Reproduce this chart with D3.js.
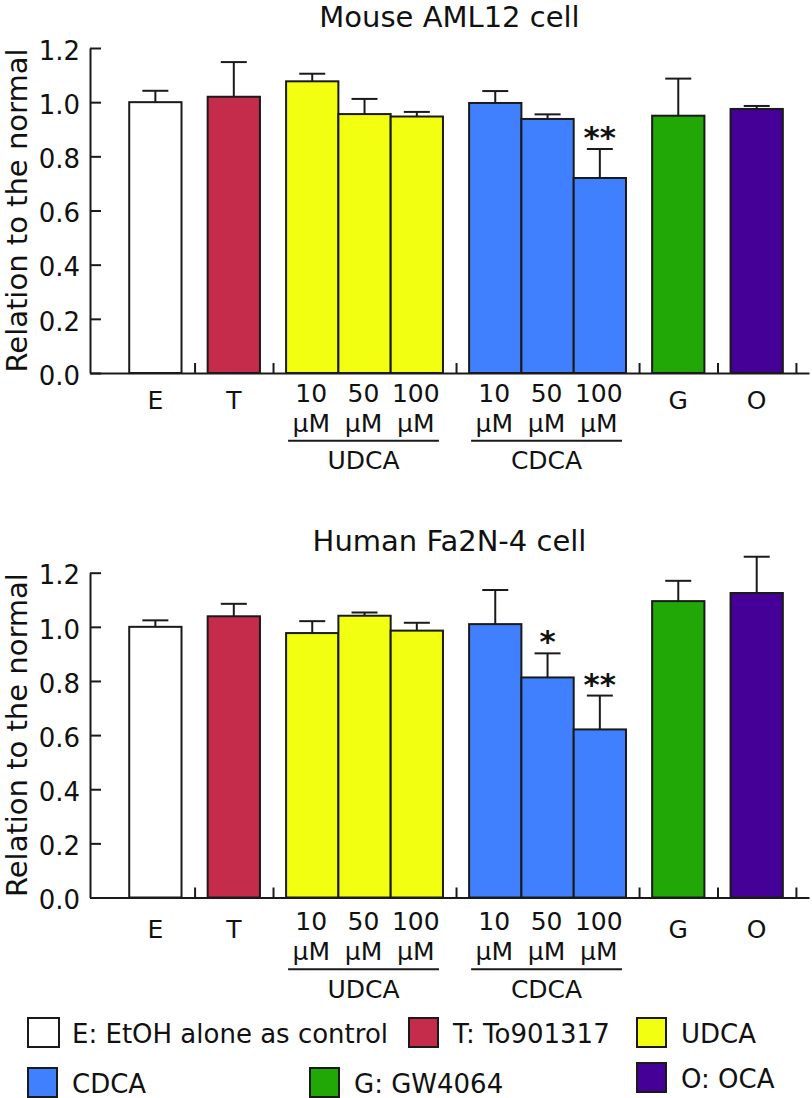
<!DOCTYPE html>
<html><head><meta charset="utf-8">
<script src="https://cdn.jsdelivr.net/npm/d3@7/dist/d3.min.js"></script>
<style>
body{margin:0;background:#fff}
svg{display:block}
text{font-family:"DejaVu Sans",Verdana,sans-serif;fill:#111}
</style>
</head><body>
<svg id="chart" width="812" height="1098"></svg>
<script>
// ---------- data ----------
const categories = ["E", "T", "10 μM", "50 μM", "100 μM", "10 μM", "50 μM", "100 μM", "G", "O"];
const categoryGroup = ["E", "T", "UDCA", "UDCA", "UDCA", "CDCA", "CDCA", "CDCA", "G", "O"];
const groupNames = ["E", "T", "UDCA", "CDCA", "G", "O"];
const groupColors = ["#ffffff", "#c52c4b", "#f2ff10", "#4080ff", "#21a806", "#450097"];

const panelTitles = ["Mouse AML12 cell", "Human Fa2N-4 cell"];
const mouseValues = [1.00, 1.02, 1.077, 0.956, 0.947, 0.997, 0.938, 0.72, 0.95, 0.975];
const mouseErrors = [0.042, 0.128, 0.028, 0.056, 0.017, 0.044, 0.017, 0.107, 0.137, 0.011];
const mouseSig = ["", "", "", "", "", "", "", "**", "", ""];
const humanValues = [1.00, 1.039, 0.977, 1.041, 0.986, 1.010, 0.813, 0.621, 1.095, 1.125];
const humanErrors = [0.024, 0.046, 0.044, 0.012, 0.029, 0.126, 0.089, 0.125, 0.075, 0.134];
const humanSig = ["", "", "", "", "", "", "*", "**", "", ""];

const yTicks = [0, 0.2, 0.4, 0.6, 0.8, 1.0, 1.2];
const yTickLabels = ["0.0", "0.2", "0.4", "0.6", "0.8", "1.0", "1.2"];
const yAxisTitle = "Relation to the normal";

const legendLabels = ["E: EtOH alone as control", "T: To901317", "UDCA", "CDCA", "G: GW4064", "O: OCA"];
const legendColors = groupColors;

// ---------- layout ----------
const svg = d3.select("#chart");
const STROKE = "#1a1a1a";
const x = d3.scaleLinear().domain([0, 13.75]).range([90, 809]);
const groupIndex = categories.map((c, i) => groupNames.indexOf(categoryGroup[i]));
const barStart = categories.map((c, i) => 0.75 + i + 0.5 * groupIndex[i]);
// boundaries between groups (tick marks on the x axis)
const boundaries = groupNames.map((g, gi) => {
  const last = d3.max(categories.map((c, i) => groupIndex[i] === gi ? barStart[i] + 1 : -1));
  return last + 0.25;
});

const panels = [
  {title: panelTitles[0], values: mouseValues, errors: mouseErrors, sig: mouseSig, top: 48, bottom: 373, titleY: 27, labelDy: 0},
  {title: panelTitles[1], values: humanValues, errors: humanErrors, sig: humanSig, top: 572.7, bottom: 897.5, titleY: 551, labelDy: 4}
];

panels.forEach(p => {
  const g = svg.append("g");
  const y = d3.scaleLinear().domain([0, 1.2]).range([p.bottom, p.top]);

  // title
  g.append("text").attr("x", (x.range()[0] + x.range()[1]) / 2).attr("y", p.titleY)
    .attr("text-anchor", "middle").style("font-size", "29px").text(p.title);

  // y-axis title
  g.append("text")
    .attr("transform", `translate(27,${(p.top + p.bottom) / 2}) rotate(-90)`)
    .attr("text-anchor", "middle").style("font-size", "29px").text(yAxisTitle);

  // bars
  g.selectAll("rect.bar").data(p.values).enter().append("rect")
    .attr("class", "bar")
    .attr("x", (d, i) => x(barStart[i]))
    .attr("width", (d, i) => x(barStart[i] + 1) - x(barStart[i]))
    .attr("y", d => y(d))
    .attr("height", d => y(0) - y(d))
    .attr("fill", (d, i) => groupColors[groupIndex[i]])
    .attr("stroke", STROKE).attr("stroke-width", 2);

  // error bars
  const cx = i => x(barStart[i] + 0.5);
  const capHalf = 13;
  p.values.forEach((v, i) => {
    const top = y(v + p.errors[i]);
    g.append("line").attr("x1", cx(i)).attr("x2", cx(i)).attr("y1", y(v)).attr("y2", top)
      .attr("stroke", STROKE).attr("stroke-width", 2);
    g.append("line").attr("x1", cx(i) - capHalf).attr("x2", cx(i) + capHalf).attr("y1", top).attr("y2", top)
      .attr("stroke", STROKE).attr("stroke-width", 2);
    if (p.sig[i]) {
      g.append("text").attr("x", cx(i)).attr("y", top - 1).attr("text-anchor", "middle")
        .style("font-size", "31px").style("font-weight", "bold").text(p.sig[i]);
    }
  });

  // y axis
  const yAxis = d3.axisLeft(y).tickValues(yTicks).tickFormat((d, i) => yTickLabels[i])
    .tickSizeInner(-11).tickSizeOuter(0).tickPadding(10);
  const ya = g.append("g").attr("transform", `translate(${x.range()[0]},0)`).call(yAxis);
  ya.select(".domain").attr("stroke", STROKE).attr("stroke-width", 2);
  ya.selectAll(".tick line").attr("stroke", STROKE).attr("stroke-width", 2);
  ya.selectAll(".tick text").attr("dy", "0.43em").style("font-size", "26px")
    .style("font-family", '"DejaVu Sans",Verdana,sans-serif').attr("fill", "#111");

  // x axis
  const xAxis = d3.axisBottom(x).tickValues(boundaries).tickFormat("").tickSizeInner(-10).tickSizeOuter(0);
  const xa = g.append("g").attr("transform", `translate(0,${y(0)})`).call(xAxis);
  xa.select(".domain").attr("stroke", STROKE).attr("stroke-width", 2);
  xa.selectAll(".tick line").attr("stroke", STROKE).attr("stroke-width", 2);

  // x labels
  const y0 = y(0) + p.labelDy;
  categories.forEach((c, i) => {
    const parts = c.split(" ");
    if (parts.length === 1) {
      g.append("text").attr("x", cx(i)).attr("y", y0 + 36).attr("text-anchor", "middle")
        .style("font-size", "25px").text(parts[0]);
    } else {
      g.append("text").attr("x", cx(i) - 1).attr("y", y0 + 28.7).attr("text-anchor", "middle")
        .style("font-size", "25px").text(parts[0]);
      g.append("text").attr("x", cx(i) - 1).attr("y", y0 + 58.7).attr("text-anchor", "middle")
        .style("font-size", "25px").text(parts[1]);
    }
  });
  // group underline + name
  groupNames.forEach((gn, gi) => {
    const idx = categories.map((c, i) => i).filter(i => groupIndex[i] === gi);
    if (idx.length < 2) return;
    const x1 = x(barStart[idx[0]]) + 2, x2 = x(barStart[idx[idx.length - 1]] + 1) - 4;
    g.append("line").attr("x1", x1).attr("x2", x2).attr("y1", y0 + 67.7).attr("y2", y0 + 67.7)
      .attr("stroke", STROKE).attr("stroke-width", 2);
    g.append("text").attr("x", (x1 + x2) / 2).attr("y", y0 + 96).attr("text-anchor", "middle")
      .style("font-size", "25px").text(gn);
  });
});

// ---------- legend ----------
const legendPos = [[28, 1018], [409, 1018], [637, 1018], [28, 1068], [310, 1068], [637, 1063]];
legendLabels.forEach((lab, i) => {
  const [lx, ly] = legendPos[i];
  svg.append("rect").attr("x", lx).attr("y", ly).attr("width", i === 0 ? 31 : 29).attr("height", 29)
    .attr("fill", legendColors[i]).attr("stroke", STROKE).attr("stroke-width", 2);
  svg.append("text").attr("x", lx + 44).attr("y", ly + 25).style("font-size", "26px").text(lab);
});
</script>
</body></html>
